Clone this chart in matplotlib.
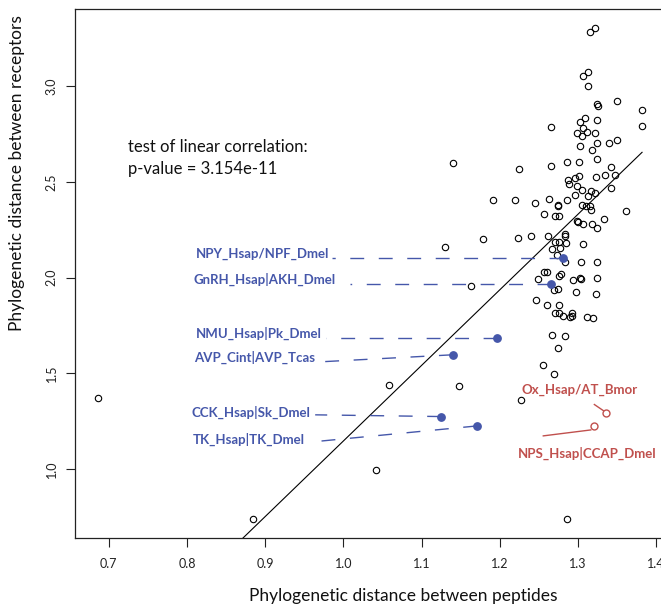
import matplotlib
matplotlib.use('Agg')
import matplotlib.pyplot as plt

plt.rcParams['font.family'] = ['Lato', 'DejaVu Sans']
plt.rcParams['lines.scale_dashes'] = False

# ── data: phylogenetic distances (peptides vs receptors) ─────────────────────
pep_x = [1.315, 1.322, 1.307, 1.313, 1.313, 1.325, 1.326, 1.350, 1.382, 1.382,
         1.265, 1.309, 1.325, 1.303, 1.307, 1.299, 1.312, 1.305, 1.322, 1.303,
         1.325, 1.318, 1.340, 1.350, 1.325, 1.225, 1.265, 1.286, 1.302, 1.342,
         1.335, 1.347, 1.323, 1.287, 1.296, 1.302, 1.289, 1.299, 1.342, 1.305,
         1.317, 1.296, 1.313, 1.322, 1.263, 1.286, 1.220, 1.191, 1.245, 1.275,
         1.275, 1.257, 1.271, 1.276, 1.305, 1.310, 1.316, 1.317, 1.362, 1.333,
         1.299, 1.300, 1.307, 1.318, 1.325, 1.179, 1.223, 1.240, 1.262, 1.284,
         1.284, 1.271, 1.276, 1.285, 1.306, 1.267, 1.277, 1.273, 1.284, 1.304,
         1.325, 1.257, 1.261, 1.276, 1.278, 1.249, 1.294, 1.303, 1.304, 1.324,
         1.269, 1.274, 1.297, 1.323, 1.246, 1.260, 1.276, 1.271, 1.276, 1.281,
         1.290, 1.293, 1.293, 1.311, 1.319, 1.267, 1.284, 1.275, 1.255, 1.270,
         1.140, 1.130, 1.163, 1.148, 1.227, 1.059, 1.042, 0.884, 1.286, 0.686]
rec_y = [3.284, 3.304, 3.054, 3.077, 3.002, 2.907, 2.897, 2.923, 2.878, 2.792,
         2.789, 2.834, 2.827, 2.812, 2.784, 2.758, 2.761, 2.740, 2.758, 2.691,
         2.705, 2.667, 2.702, 2.719, 2.621, 2.569, 2.586, 2.607, 2.604, 2.577,
         2.536, 2.539, 2.527, 2.513, 2.522, 2.534, 2.491, 2.482, 2.468, 2.457,
         2.452, 2.435, 2.426, 2.443, 2.412, 2.408, 2.408, 2.405, 2.389, 2.381,
         2.373, 2.335, 2.325, 2.321, 2.381, 2.377, 2.373, 2.352, 2.347, 2.309,
         2.298, 2.292, 2.279, 2.279, 2.258, 2.203, 2.206, 2.220, 2.216, 2.229,
         2.216, 2.187, 2.187, 2.182, 2.176, 2.150, 2.156, 2.120, 2.080, 2.080,
         2.082, 2.028, 2.031, 2.010, 2.017, 1.993, 1.990, 1.996, 1.993, 2.000,
         1.934, 1.941, 1.925, 1.916, 1.881, 1.855, 1.859, 1.815, 1.815, 1.801,
         1.797, 1.818, 1.801, 1.797, 1.787, 1.700, 1.693, 1.630, 1.541, 1.497,
         2.602, 2.161, 1.958, 1.435, 1.363, 1.440, 0.996, 0.740, 0.738, 1.372]

# highlighted pairs
blue_names = ['NPY_Hsap/NPF_Dmel', 'GnRH_Hsap|AKH_Dmel', 'NMU_Hsap|Pk_Dmel',
              'AVP_Cint|AVP_Tcas', 'CCK_Hsap|Sk_Dmel', 'TK_Hsap|TK_Dmel']
blue_x = [1.281, 1.265, 1.196, 1.140, 1.125, 1.171]
blue_y = [2.103, 1.967, 1.684, 1.597, 1.274, 1.225]

red_names = ['Ox_Hsap/AT_Bmor', 'NPS_Hsap|CCAP_Dmel']
red_x = [1.3355, 1.3206]
red_y = [1.292, 1.225]

# fitted regression line
fit_slope = 3.952
fit_icpt = -2.806
p_value = '3.154e-11'

# ── layout for labels (data coords) ──────────────────────────────────────────
blue_lab = [(0.812, 2.124), (0.809, 1.990), (0.812, 1.707),
            (0.809, 1.583), (0.806, 1.295), (0.807, 1.155)]
blue_lead = [(0.985, 2.103), (1.009, 1.967), (0.978, 1.684),
             (0.970, 1.560), (0.964, 1.283), (0.954, 1.139)]
red_lab = [(1.2274, 1.414), (1.2230, 1.082)]
red_lead = [((1.321, 1.337), (1.3325, 1.305)),
            ((1.2557, 1.173), (1.3164, 1.204))]

BLUE = '#4557aa'
RED = '#c0504d'

W, H = 661, 606
fig = plt.figure(figsize=(W / 100, H / 100), dpi=100)
fig.patch.set_facecolor('white')
ax = fig.add_axes([75.1 / W, (H - 538) / H, 591.2 / W, 529 / H])
ax.set_xlim(0.657, 1.413)
ax.set_ylim(0.639, 3.405)

# scatter
ax.plot(pep_x, rec_y, 'o', ls='none', ms=4.6, mfc='none', mec='black', mew=0.8, zorder=3)

# regression line over data range
x0, x1 = min(pep_x), max(pep_x)
ax.plot([x0, x1], [fit_icpt + fit_slope * x0, fit_icpt + fit_slope * x1],
        color='black', lw=0.8, zorder=2)

# blue highlighted pairs with dashed leaders
for name, px, py, (lx, ly), (ex, ey) in zip(blue_names, blue_x, blue_y, blue_lab, blue_lead):
    ax.plot([px, ex], [py, ey], color=BLUE, lw=1.0, ls=(0, (10, 10.5)), zorder=4)
    ax.plot(px, py, 'o', ms=5.3, color=BLUE, zorder=5)
    ax.text(lx, ly, name, ha='left', va='center', fontsize=9.5,
            fontweight='bold', color=BLUE, zorder=6)

# red highlighted pairs
for name, px, py, (lx, ly), ((sx, sy), (tx, ty)) in zip(red_names, red_x, red_y, red_lab, red_lead):
    ax.plot([sx, tx], [sy, ty], color=RED, lw=1.0, zorder=4)
    ax.plot(px, py, 'o', ms=5.0, mfc='white', mec=RED, mew=1.0, zorder=5)
    ax.text(lx, ly, name, ha='left', va='center', fontsize=9.5,
            fontweight='bold', color=RED, zorder=6)

ax.text(0.725, 2.684, 'test of linear correlation:', ha='left', va='center',
        fontsize=12, color='#111111')
ax.text(0.725, 2.571, 'p-value = ' + p_value, ha='left', va='center',
        fontsize=12, color='#111111')

# axes styling
ax.set_xticks([0.7, 0.8, 0.9, 1.0, 1.1, 1.2, 1.3, 1.4])
ax.set_xticklabels(['0.7', '0.8', '0.9', '1.0', '1.1', '1.2', '1.3', '1.4'])
ax.set_yticks([1.0, 1.5, 2.0, 2.5, 3.0])
ax.set_yticklabels(['1.0', '1.5', '2.0', '2.5', '3.0'], rotation=90, va='center')
ax.tick_params(axis='both', direction='out', length=6.5, width=0.8,
               labelsize=9, color='#222222', labelcolor='#222222')
ax.tick_params(axis='x', pad=8)
ax.tick_params(axis='y', pad=6)
for s in ax.spines.values():
    s.set_linewidth(0.9)
    s.set_color('#222222')

fig.text(403 / W, 1 - 596 / H, 'Phylogenetic distance between peptides',
         ha='center', va='center', fontsize=12.5, color='#111111')
fig.text(17 / W, 1 - 173 / H, 'Phylogenetic distance between receptors',
         ha='center', va='center', rotation=90, fontsize=12.5, color='#111111')

fig.savefig('out.png', dpi=100, facecolor='white')
